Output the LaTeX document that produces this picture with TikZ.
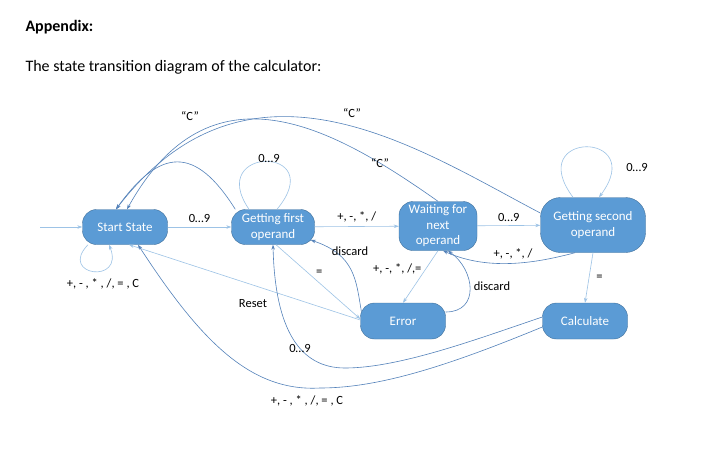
\documentclass[tikz,border=0pt]{standalone}
\usepackage{fontspec}
\setmainfont{Carlito}
\usetikzlibrary{arrows.meta}
\definecolor{stateblue}{RGB}{91,155,213}
\definecolor{stateedge}{RGB}{65,113,156}
\definecolor{palearc}{RGB}{157,195,230}
\definecolor{deeparc}{RGB}{84,130,186}

\begin{document}
\begin{tikzpicture}[x=1pt,y=-1pt,>={Stealth[length=5pt,width=3.5pt]},
    state/.style={draw=stateedge,line width=0.4pt,fill=stateblue,text=white,
      rounded corners=14pt,align=center,inner sep=2pt,minimum height=35pt,
      font=\fontsize{13}{15.5}\selectfont},
    lbl/.style={font=\fontsize{12.5}{14}\selectfont,inner sep=1pt,text=black},
    softline/.style={draw=palearc,line width=0.6pt},
    boldline/.style={draw=deeparc,line width=0.6pt}]
	\fill[white] (0,0) rectangle (708,474);
	\useasboundingbox (0,0) rectangle (708,474);

	\node[anchor=west,font=\bfseries\fontsize{16}{18}\selectfont] (head) at (22,27) {Appendix:};
	\node[anchor=west,font=\fontsize{16}{18}\selectfont] (caption) at (22,67) {The state transition diagram of the calculator:};

	% states
	\node[state,minimum width=85pt] (start) at (125,227) {Start State};
	\node[state,minimum width=83pt] (first) at (273,227) {Getting first\\operand};
	\node[state,minimum width=78pt,minimum height=49pt] (wait) at (438,226) {Waiting for\\next\\operand};
	\node[state,minimum width=105pt,minimum height=55pt,rounded corners=20pt] (second) at (593,225) {Getting second\\operand};
	\node[state,minimum width=85pt,minimum height=36pt] (error) at (403,321) {Error};
	\node[state,minimum width=85pt,minimum height=36pt] (calc) at (585,321) {Calculate};

	% straight transitions
	\coordinate (entry) at (40,227);
	\draw[softline,->] (entry) -- (start);
	\draw[softline,->] (start) -- node[lbl,above=3pt] {0…9} (first);
	\draw[softline,->] (first) -- node[lbl,above=3pt] {+, -, *, /} (wait);
	\draw[softline,->] (wait) -- node[lbl,above=3pt] {0…9} (second);
	\draw[softline,->] (second.south) -- node[lbl,right=6pt] {=} (calc.north);
	\draw[softline,->] (wait.south) -- node[lbl,pos=0.35,left=3pt] {+, -, *, /,=} (error.north);
	\draw[softline,->] ([xshift=3pt]first.south) -- node[lbl,pos=0.45,above right=1pt] {=} ([yshift=2pt]error.west);
	\draw[softline,->] ([yshift=1pt]error.west) -- ([xshift=4pt]start.south);
	\node[lbl] (reset) at (253,304) {Reset};

	% self loops
	\draw[softline,->] ([xshift=-37pt]start.south) .. controls +(-30,31) and +(16,40) .. ([xshift=-16pt]start.south);
	\node[lbl] (startloop) at (103,284) {+, - , * , /, = , C};
	\draw[softline] ([xshift=-24pt]first.north) .. controls +(-44,-64) and +(53,-64) .. ([xshift=4pt]first.north);
	\node[lbl] (firstloop) at (269,158) {0…9};
	\draw[softline,->] ([xshift=-20pt]second.north) .. controls +(-50,-67) and +(50,-67) .. ([xshift=6pt]second.north);
	\node[lbl] (secondloop) at (637,167) {0…9};

	% "C" back to start
	\draw[boldline,->] ([xshift=4pt]first.north west) .. controls (195,145) and (160,148) .. ([xshift=-9pt]start.north);
	\draw[boldline,->] (wait.north) .. controls (330,125) and (210,60) .. ([xshift=2pt]start.north);
	\draw[boldline,->] ([yshift=12pt]second.west) .. controls (420,150) and (250,35) .. ([xshift=-9pt]start.north);
	\node[lbl] (cfirst) at (190,116) {“C”};
	\node[lbl] (csecond) at (352,113) {“C”};
	\node[lbl] (cwait) at (380,163) {“C”};

	% other curved transitions
	\draw[boldline,->] ([xshift=-18pt]second.south) .. controls (540,262) and (490,272) .. ([xshift=5pt]wait.south);
	\node[lbl] (backop) at (513,254) {+, -, *, /};
	\draw[boldline,->] ([yshift=9pt]error.east) .. controls (480,312) and (475,270) .. ([xshift=10pt]wait.south);
	\node[lbl] (discwait) at (492,286) {discard};
	\draw[boldline,->] ([xshift=1pt,yshift=10pt]error.west) .. controls (356,280) and (355,255) .. ([xshift=-4pt,yshift=-13pt]first.east);
	\node[lbl] (discfirst) at (350,251) {discard};
	\draw[boldline,->] ([yshift=4pt]calc.west) .. controls (480,338) and (400,368) .. (345,368)
		.. controls (300,368) and (275,330) .. (first.south);
	\node[lbl] (calcdigit) at (300,348) {0…9};
	\draw[boldline,->] ([yshift=-6pt]calc.west) .. controls (450,365) and (380,388) .. (320,388)
		.. controls (250,392) and (200,340) .. ([xshift=13pt]start.south);
	\node[lbl] (calcop) at (307,401) {+, - , * , /, = , C};
\end{tikzpicture}
\end{document}
